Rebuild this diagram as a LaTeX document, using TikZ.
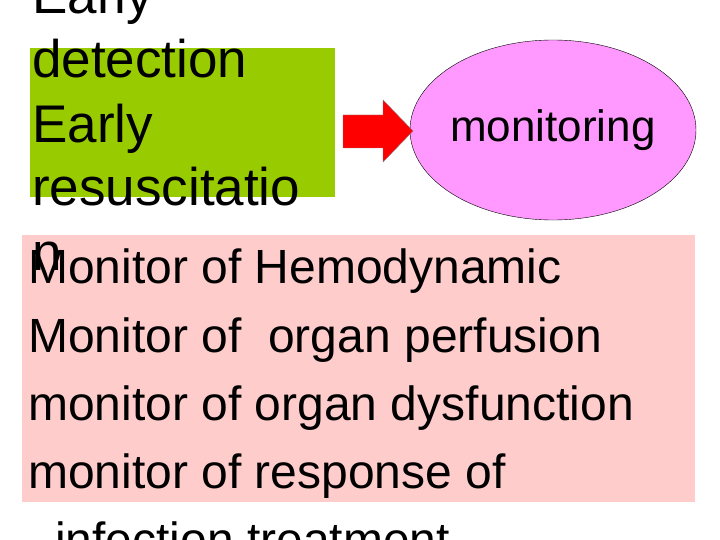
\documentclass[tikz,border=0pt]{standalone}
\usepackage{fontspec}
\setmainfont{Liberation Sans}
\usetikzlibrary{shapes.geometric}
\begin{document}
\begin{tikzpicture}[x=1pt,y=-1pt,
  big/.style={anchor=base west,inner sep=0pt,font=\fontsize{53}{60}\selectfont},
  mid/.style={anchor=base west,inner sep=0pt,font=\fontsize{48}{55}\selectfont}]
\useasboundingbox (0,0) rectangle (720,540);
\clip (0,0) rectangle (720,540);
\fill[fill={rgb,255:red,153;green,204;blue,0}] (30,48) rectangle (335,197);
\node[big] (t1) at (32,14) {Early};
\node[big] (t2) at (32,78) {detection};
\node[big] (t3) at (32,143) {Early};
\node[big] (t4) at (32,206) {resuscitatio};
\fill[fill={rgb,255:red,255;green,204;blue,204}] (22,235) rectangle (695,502);
\node[big] (t5) at (32,270) {n};
\node[draw=black,fill={rgb,255:red,255;green,153;blue,255},ellipse,minimum width=286pt,minimum height=180pt,inner sep=0pt] (e) at (553,130) {};
\node[inner sep=0pt,font=\fontsize{44}{50}\selectfont] (m) at (e) {monitoring};
\coordinate (a0) at (343,115);
\draw[draw=black!50,fill=red] (a0) -- (383,115) -- (383,100) -- (413,131) -- (383,162) -- (383,148) -- (343,148) -- cycle;
\node[mid] (l1) at (28,283) {Monitor of Hemodynamic};
\node[mid] (l2) at (28,352) {Monitor of\ \ organ perfusion};
\node[mid] (l3) at (28,420) {monitor of organ dysfunction};
\node[mid] (l4) at (28,488) {monitor of response of};
\node[mid] (l5) at (55,556) {infection treatment};
\end{tikzpicture}
\end{document}
